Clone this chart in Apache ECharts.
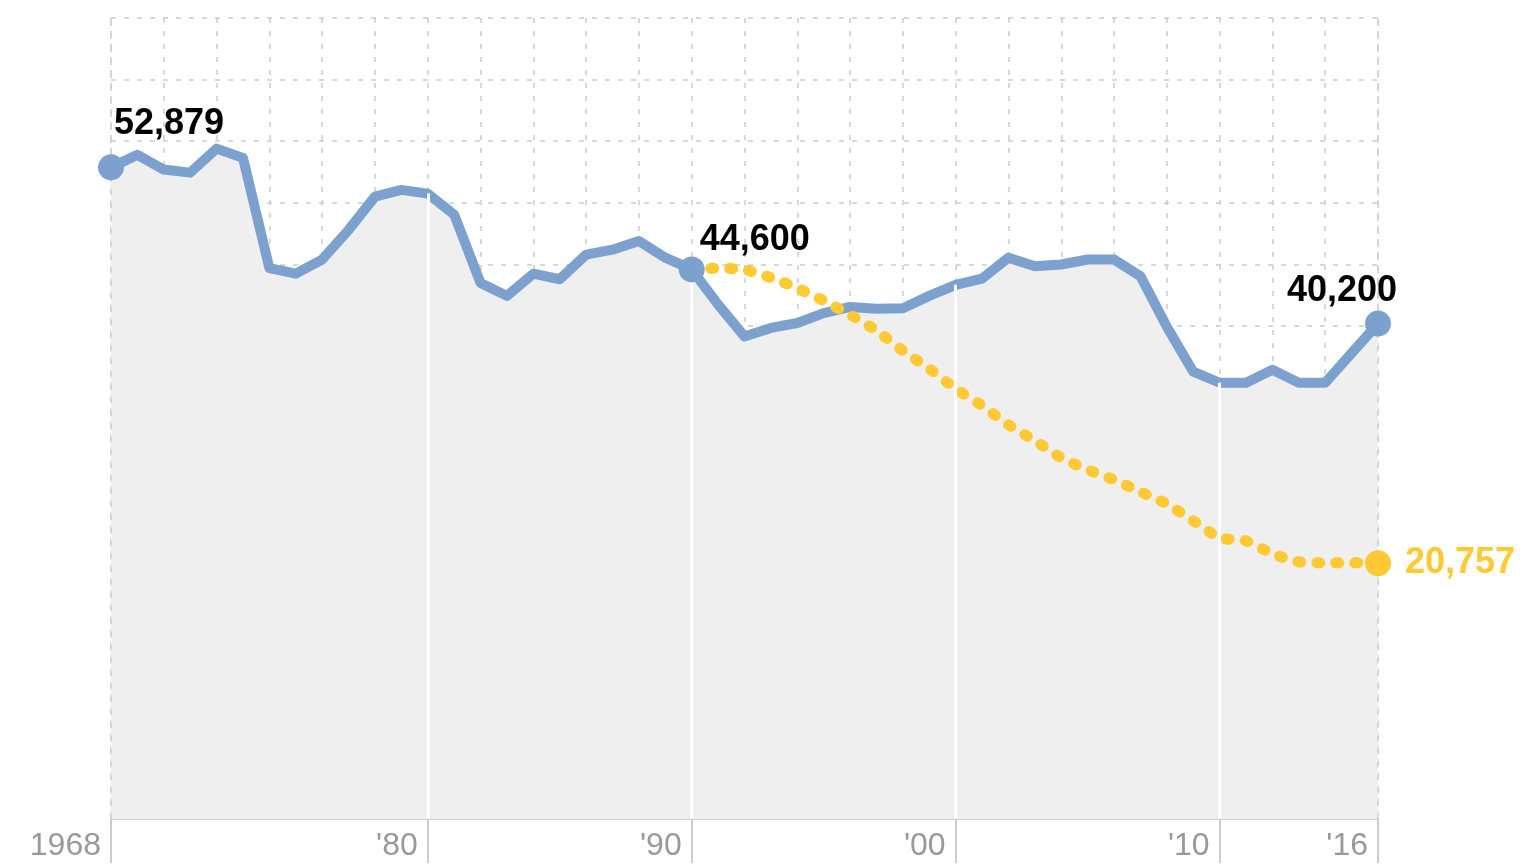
<!DOCTYPE html>
<html>
<head>
<meta charset="utf-8">
<script src="https://cdn.jsdelivr.net/npm/echarts@6/dist/echarts.min.js"></script>
<style>
  html, body { margin: 0; padding: 0; background: #fff; }
  #chart { width: 1527px; height: 865px; }
</style>
</head>
<body>
<div id="chart"></div>
<script>
// ---- data ----
const years = [1968,1969,1970,1971,1972,1973,1974,1975,1976,1977,1978,1979,
  1980,1981,1982,1983,1984,1985,1986,1987,1988,1989,
  1990,1991,1992,1993,1994,1995,1996,1997,1998,1999,
  2000,2001,2002,2003,2004,2005,2006,2007,2008,2009,
  2010,2011,2012,2013,2014,2015,2016];
const actualValues = [52879,53900,52700,52450,54400,53650,44700,44250,45400,47800,50500,51050,
  50750,49050,43500,42450,44250,43800,45800,46200,46900,45550,
  44600,41750,39150,39850,40250,41050,41550,41400,41450,42450,
  43350,43850,45550,44850,45000,45400,45400,44050,39950,36300,
  35400,35400,36450,35400,35400,37800,40200];
const projYears = [1990,1991,1992,1993,1994,1995,1996,1997,1998,1999,
  2000,2001,2002,2003,2004,2005,2006,2007,2008,2009,
  2010,2011,2012,2013,2014,2015,2016];
const projValues = [44600,44700,44580,43930,43080,42060,40920,39630,38000,36540,
  34920,33540,31990,30700,29310,28340,27530,26550,25580,24200,
  22820,22570,21520,20870,20790,20790,20757];
const annotatedYears = [1968, 1990, 2016];
const annotatedLabels = ['52,879', '44,600', '40,200'];
const projEndLabel = '20,757';
const tickYears = [1968, 1980, 1990, 2000, 2010, 2016];
const tickLabels = ['1968', "'80", "'90", "'00", "'10", "'16"];
const decadeYears = [1980, 1990, 2000, 2010];

// ---- build ----
const BLUE = '#7da1cf', YELLOW = '#ffc933', AREA = '#efefef', GRID = '#cccccc';
const actualData = years.map((y, i) => [y, actualValues[i]]);
const projData = projYears.map((y, i) => [y, projValues[i]]);
const valAt = y => actualValues[years.indexOf(y)];

const labelFont = { color: '#000', fontSize: 36, fontWeight: 'bold', fontFamily: 'Liberation Sans' };
const labelOffsets = [[3, -43], [8, -29], [-91, -33]];
const annotData = annotatedYears.map((y, i) => ({
  value: [y, valAt(y)],
  label: Object.assign({
    show: true, formatter: annotatedLabels[i], position: 'inside',
    align: 'left', verticalAlign: 'middle', offset: labelOffsets[i]
  }, labelFont)
}));

const lastProj = projData[projData.length - 1];

const decadeLines = decadeYears.map(y => [
  { coord: [y, 0], lineStyle: { color: '#fff', width: 3, type: 'solid' } },
  { coord: [y, valAt(y)] }
]);
const edgeLines = [1968, 2016].map(y => [
  { coord: [y, 0], lineStyle: { color: GRID, width: 1.5, type: [5, 8] } },
  { coord: [y, 65000] }
]);

const chart = echarts.init(document.getElementById('chart'), null, { renderer: 'canvas' });
chart.setOption({
  animation: false,
  backgroundColor: '#fff',
  grid: { left: 111, right: 149, top: 18, bottom: 46 },
  xAxis: [{
    type: 'value', min: 1968, max: 2016, interval: 2,
    axisLine: { show: false }, axisTick: { show: false }, axisLabel: { show: false },
    splitLine: { show: true, lineStyle: { color: GRID, width: 1.5, type: [5, 8] } }
  }, {
    type: 'value', min: 1968, max: 2016, position: 'bottom',
    axisLine: { show: true, lineStyle: { color: '#cccccc', width: 2 } },
    axisTick: { show: true, customValues: tickYears, length: 44, lineStyle: { color: '#cccccc', width: 2 } },
    axisLabel: {
      show: true, customValues: tickYears,
      formatter: v => tickLabels[tickYears.indexOf(v)],
      align: 'right', padding: [0, 10, 0, 0], margin: 11,
      color: '#999999', fontSize: 32, fontFamily: 'Liberation Sans'
    },
    splitLine: { show: false }
  }],
  yAxis: {
    type: 'value', min: 0, max: 65000, interval: 5000,
    axisLine: { show: false }, axisTick: { show: false }, axisLabel: { show: false },
    splitLine: { show: true, lineStyle: { color: GRID, width: 1.5, type: [5, 8] } }
  },
  series: [{
    type: 'line', data: actualData, xAxisIndex: 0, symbol: 'none', z: 1,
    lineStyle: { width: 0, opacity: 0 },
    areaStyle: { color: AREA, opacity: 1 },
    silent: true,
    markLine: {
      silent: true, symbol: ['none', 'none'], label: { show: false },
      data: decadeLines.concat(edgeLines)
    }
  }, {
    type: 'line', data: actualData, xAxisIndex: 0, symbol: 'none', z: 3,
    lineStyle: { color: BLUE, width: 10, join: 'round', cap: 'round' }
  }, {
    type: 'line', data: projData, xAxisIndex: 0, symbol: 'none', z: 4, smooth: 0.2,
    lineStyle: { color: YELLOW, width: 11, type: [3, 16], cap: 'round' }
  }, {
    type: 'scatter', xAxisIndex: 0, z: 5, symbol: 'circle', symbolSize: 26,
    itemStyle: { color: BLUE, opacity: 1 }, data: annotData
  }, {
    type: 'scatter', xAxisIndex: 0, z: 5, symbol: 'circle', symbolSize: 26,
    itemStyle: { color: YELLOW, opacity: 1 },
    data: [{
      value: lastProj,
      label: Object.assign({
        show: true, formatter: projEndLabel, position: 'right', distance: 14
      }, labelFont, { color: YELLOW })
    }]
  }]
});
</script>
</body>
</html>
